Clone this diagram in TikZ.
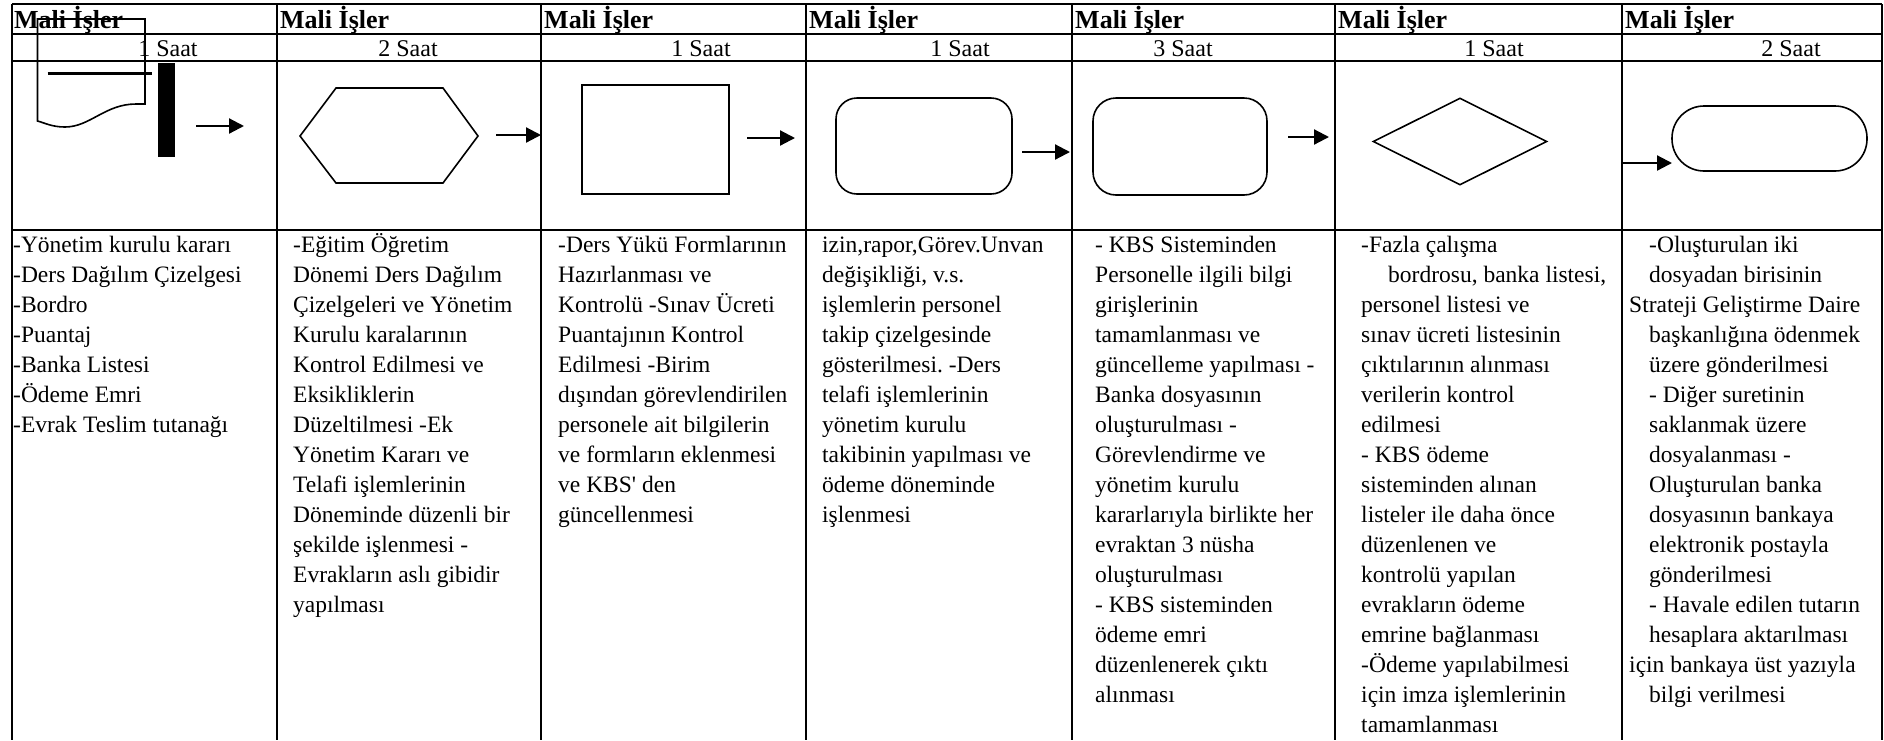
\documentclass[tikz,border=0pt]{standalone}
\usepackage{fontspec}
\setmainfont{Liberation Serif}
\usetikzlibrary{arrows.meta,shapes.geometric,positioning}
\tikzset{
     grid line/.style = {black, line width=2.4pt},
     head node/.style = {anchor=base west, inner sep=0pt, font=\fontsize{26}{30}\selectfont\bfseries},
     time node/.style = {anchor=base, inner sep=0pt, font=\fontsize{24}{28}\selectfont},
     text node/.style = {anchor=north west, inner sep=0pt, align=left, font=\fontsize{23.5}{30}\selectfont},
     box/.style = {draw, line width=1.6pt, inner sep=0pt},
     flow/.style = {black, line width=2.2pt, -{Triangle[length=15pt,width=15pt]}},
    }
\newcommand{\shiftin}{\hspace*{20pt}}
\frenchspacing

\begin{document}
\begin{tikzpicture}[x=1pt,y=-1pt]
        \useasboundingbox (0,0) rectangle (1884,740);
        \foreach \y in {4,34,61,230}
            \draw[grid line] (12,\y) -- (1882,\y);
        \foreach \x in {12,277,541,806,1072,1335,1622,1882}
            \draw[grid line] (\x,4) -- (\x,740);
        \foreach \x [count=\i] in {14,280,544,809,1075,1338,1625}
            \node [head node] (h\i) at (\x,28) {Mali İşler};
        \foreach \x/\n [count=\i] in {168/1,408/2,701/1,960/1,1183/3,1494/1,1791/2}
            \node [time node] (d\i) at (\x,56) {\n\ Saat};
        % shapes
        \draw[box] (37.5,19) -- (145,19) -- (145,104) -- (136,104)
            .. controls (105,104) and (90,127) .. (65,127)
            .. controls (52,127) and (45,123) .. (37.5,121) -- cycle;
        \draw[line width=3pt] (47.5,73) -- (152,73);
        \fill (158,63) rectangle (175,157);
        \draw[box] (300,136) -- (336,88) -- (443,88) -- (478,136) -- (443,183) -- (336,183) -- cycle;
        \node [box, minimum width=147pt, minimum height=109pt] (s3) at (655.5,139.5) {};
        \node [box, rounded corners=21pt, minimum width=176pt, minimum height=96pt] (s4) at (924,146) {};
        \node [box, rounded corners=23pt, minimum width=174pt, minimum height=97pt] (s5) at (1180,146.5) {};
        \node [box, diamond, minimum width=174pt, minimum height=87pt] (s6) at (1460,141.5) {};
        \node [box, rounded corners=32pt, minimum width=195pt, minimum height=65pt] (s7) at (1769.5,138.5) {};
        \foreach \xa/\xb/\y [count=\i] in {196/244/126,496/541/135,747/795/138,1022/1070/152,1288/1329/137,1622/1672/163}
        {
            \coordinate (a\i) at (\xa,\y);
            \coordinate (b\i) at (\xb,\y);
        }
        \path[flow]
        (a1) edge (b1)
        (a2) edge (b2)
        (a3) edge (b3)
        (a4) edge (b4)
        (a5) edge (b5)
        (a6) edge (b6);
        % texts
        \node [text node] (t1) at (13,231) {\strut-Yönetim kurulu kararı\\-Ders Dağılım Çizelgesi\\-Bordro\\-Puantaj\\-Banka Listesi\\-Ödeme Emri\\-Evrak Teslim tutanağı};
        \node [text node] (t2) at (293,231) {\strut-Eğitim Öğretim\\Dönemi Ders Dağılım\\Çizelgeleri ve Yönetim\\Kurulu karalarının\\Kontrol Edilmesi ve\\Eksikliklerin\\Düzeltilmesi -Ek\\Yönetim Kararı ve\\Telafi işlemlerinin\\Döneminde düzenli bir\\şekilde işlenmesi -\\Evrakların aslı gibidir\\yapılması};
        \node [text node] (t3) at (558,231) {\strut-Ders Yükü Formlarının\\Hazırlanması ve\\Kontrolü -Sınav Ücreti\\Puantajının Kontrol\\Edilmesi -Birim\\dışından görevlendirilen\\personele ait bilgilerin\\ve formların eklenmesi\\ve KBS\textquotesingle{} den\\güncellenmesi};
        \node [text node] (t4) at (822,231) {\strut izin,rapor,Görev.Unvan\\değişikliği, v.s.\\işlemlerin personel\\takip çizelgesinde\\gösterilmesi. -Ders\\telafi işlemlerinin\\yönetim kurulu\\takibinin yapılması ve\\ödeme döneminde\\işlenmesi};
        \node [text node] (t5) at (1095,231) {\strut- KBS Sisteminden\\Personelle ilgili bilgi\\girişlerinin\\tamamlanması ve\\güncelleme yapılması -\\Banka dosyasının\\oluşturulması -\\Görevlendirme ve\\yönetim kurulu\\kararlarıyla birlikte her\\evraktan 3 nüsha\\oluşturulması\\- KBS sisteminden\\ödeme emri\\düzenlenerek çıktı\\alınması};
        \node [text node] (t6) at (1361,231) {\strut-Fazla çalışma\\\hspace*{27pt}bordrosu, banka listesi,\\personel listesi ve\\sınav ücreti listesinin\\çıktılarının alınması\\verilerin kontrol\\edilmesi\\- KBS ödeme\\sisteminden alınan\\listeler ile daha önce\\düzenlenen ve\\kontrolü yapılan\\evrakların ödeme\\emrine bağlanması\\-Ödeme yapılabilmesi\\için imza işlemlerinin\\tamamlanması};
        \node [text node] (t7) at (1629,231) {\strut\shiftin-Oluşturulan iki\\\shiftin dosyadan birisinin\\Strateji Geliştirme Daire\\\shiftin başkanlığına ödenmek\\\shiftin üzere gönderilmesi\\\shiftin- Diğer suretinin\\\shiftin saklanmak üzere\\\shiftin dosyalanması -\\\shiftin Oluşturulan banka\\\shiftin dosyasının bankaya\\\shiftin elektronik postayla\\\shiftin gönderilmesi\\\shiftin- Havale edilen tutarın\\\shiftin hesaplara aktarılması\\için bankaya üst yazıyla\\\shiftin bilgi verilmesi};
    \end{tikzpicture}
\end{document}
